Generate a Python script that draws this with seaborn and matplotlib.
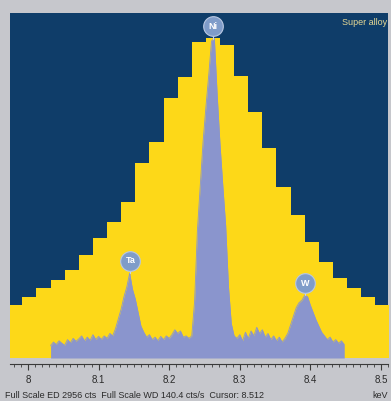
import numpy as np
import pandas as pd
import matplotlib
matplotlib.use("Agg")
import matplotlib.pyplot as plt
import seaborn as sns

# ED spectrum: 20 eV channels (centre in keV) and counts
ed_kev = [7.982, 8.002, 8.022, 8.042, 8.062, 8.082, 8.102, 8.122, 8.142,
          8.162, 8.182, 8.202, 8.222, 8.242, 8.262, 8.282, 8.302, 8.322,
          8.342, 8.362, 8.382, 8.402, 8.422, 8.442, 8.462, 8.482, 8.502]
ed_cts = [454, 523, 600, 668, 754, 882, 1028, 1165, 1337,
          1671, 1851, 2228, 2408, 2707, 2742, 2682, 2420, 2108,
          1799, 1465, 1225, 994, 823, 685, 600, 523, 454]

# WD scan: 4 eV steps from 8.032 keV, counts per second
wd_start = 8.032
wd_step = 0.004
wd_cps = [5.0, 6.5, 5.5, 7.0, 6.0, 5.2, 7.5, 6.2, 8.0, 6.8,
          7.8, 9.0, 7.0, 8.5, 7.2, 9.5, 7.5, 8.8, 7.6, 9.0,
          8.0, 10.0, 9.0, 12.0, 16.0, 20.0, 25.0, 29.0, 34.5, 28.0,
          24.0, 18.5, 13.0, 10.5, 8.5, 9.5, 7.5, 8.5, 7.0, 8.8,
          7.5, 9.0, 8.0, 9.5, 11.5, 10.0, 11.0, 8.5, 9.0, 8.0,
          9.0, 23.0, 52.0, 70.0, 88.0, 102.0, 115.0, 129.0, 130.0, 107.0,
          87.0, 70.0, 54.0, 29.0, 14.0, 9.0, 8.0, 9.5, 7.0, 10.5,
          8.0, 11.0, 9.0, 12.5, 10.0, 11.5, 8.5, 10.0, 7.5, 9.0,
          7.0, 8.5, 6.5, 8.0, 10.0, 13.5, 17.0, 20.5, 22.5, 23.5,
          25.5, 25.0, 21.5, 18.5, 15.5, 13.0, 10.5, 9.0, 7.5, 8.5,
          6.5, 7.5, 6.0, 7.0, 5.5]

peak_names = ["Ta", "Ni", "W"]
peak_kev = [8.145, 8.262, 8.393]
peak_cps = [34.5, 130.0, 25.5]

ed_full = 2956
wd_full = 140.4

navy = "#0f3d69"
yellow = "#fdd818"
lavender = "#8a95cd"
panel = "#c6c7cc"

sns.set_style("ticks")
plt.rcParams["font.family"] = ["Liberation Sans Narrow", "Liberation Sans", "DejaVu Sans"]

fig = plt.figure(figsize=(3.91, 4.01), dpi=100, facecolor=panel)
ax = fig.add_axes([10 / 391, 1 - 358 / 401, 378 / 391, 345 / 401])
ax.set_facecolor(navy)

ed = pd.DataFrame({"kev": ed_kev, "cts": ed_cts})
sns.histplot(data=ed, x="kev", weights="cts", binwidth=0.02,
             binrange=(ed_kev[0] - 0.01, ed_kev[-1] + 0.01), element="step",
             fill=True, color=yellow, alpha=1, linewidth=0, ax=ax)
ax.set_xlim(7.9745, 8.51)
ax.set_ylim(0, ed_full)

ax2 = ax.twinx()
wd = pd.DataFrame({"cps": wd_cps})
wd["kev"] = wd_start + wd_step * np.arange(len(wd))
ax2.fill_between(wd["kev"], 0, wd["cps"], color=lavender, linewidth=0)
sns.lineplot(data=wd, x="kev", y="cps", color=lavender, linewidth=0.6, ax=ax2)
ax2.set_ylim(0, wd_full)

# element labels
gap = 5.0
for name, k, c in zip(peak_names, peak_kev, peak_cps):
    ax2.plot([k, k], [c, c + gap], color="#c9d3ec", linewidth=0.8)
    ax2.scatter([k], [c + gap], s=200, color="#7f9cc9", edgecolors="#b9c8e2",
                linewidths=0.8, zorder=5)
    ax2.text(k, c + gap, name, color="white", fontsize=6.5, ha="center",
             va="center", zorder=6, fontweight="bold",
             family=["Liberation Sans", "DejaVu Sans"])

ax.text(0.999, 0.985, "Super alloy", transform=ax.transAxes, ha="right",
        va="top", color="#e6d894", fontsize=6.5)

for a in (ax, ax2):
    a.set_yticks([])
    a.set_ylabel("")
    a.set_xlabel("")
    for s in ("left", "right", "top"):
        a.spines[s].set_visible(False)
ax2.spines["bottom"].set_visible(False)
ax2.tick_params(axis="x", which="both", bottom=False, labelbottom=False)

ax.spines["bottom"].set_position(("outward", 4.5))
ax.spines["bottom"].set_color("#3a3a3a")
ax.spines["bottom"].set_linewidth(0.8)
ax.set_xticks([8.0, 8.1, 8.2, 8.3, 8.4, 8.5])
ax.set_xticklabels(["8", "8.1", "8.2", "8.3", "8.4", "8.5"])
ax.set_xticks(np.arange(7.98, 8.511, 0.01), minor=True)
ax.tick_params(axis="x", which="major", length=4.5, width=0.8, color="#3a3a3a",
               labelsize=7, labelcolor="#2a2a2a", pad=3)
ax.tick_params(axis="x", which="minor", length=2, width=0.6, color="#3a3a3a")

fig.text(5 / 391, 1 - 396 / 401,
         "Full Scale ED 2956 cts  Full Scale WD 140.4 cts/s  Cursor: 8.512",
         fontsize=6.5, color="#2a2a2a", va="center", ha="left")
fig.text(388 / 391, 1 - 396 / 401, "keV", fontsize=6.5, color="#2a2a2a",
         va="center", ha="right")

fig.savefig("out.png", dpi=100, facecolor=panel)
